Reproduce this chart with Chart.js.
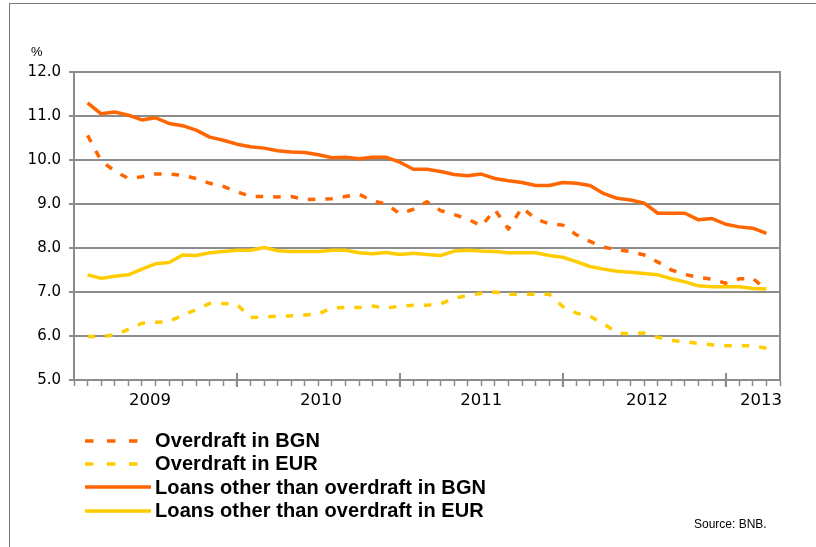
<!DOCTYPE html>
<html>
<head>
<meta charset="utf-8">
<script src="https://cdn.jsdelivr.net/npm/chart.js@4.4.1/dist/chart.umd.min.js"></script>
<style>
  html, body { margin: 0; padding: 0; background: #fff; }
  #wrap { position: relative; width: 816px; height: 547px; overflow: hidden; font-family: "Liberation Sans", Arial, sans-serif; }
  #frame { position: absolute; left: 9px; top: 3px; right: 0; bottom: 0; border-left: 1px solid #7a7a7a; border-top: 1px solid #7a7a7a; pointer-events: none; }
  #chart { position: absolute; left: 0; top: 0; }
  #pct { position: absolute; left: 31px; top: 44px; font-size: 13px; color: #000; }
  #legend { position: absolute; left: 85px; top: 429px; }
  .row { height: 23.3px; display: flex; align-items: center; font-weight: bold; font-size: 20px; letter-spacing: 0.1px; color: #000; white-space: nowrap; }
  .row svg { width: 66px; height: 8px; margin-right: 4px; flex: none; }
  #source { position: absolute; left: 694px; top: 517px; font-size: 12px; color: #000; }
</style>
</head>
<body>
<div id="wrap">
  <canvas id="chart" width="816" height="547"></canvas>
  <div id="frame"></div>
  <div id="pct">%</div>
  <div id="legend"></div>
  <div id="source">Source: BNB.</div>
</div>
<script>
// Monthly categories (Jan 2009 – Mar 2013)
const months = [
  'Jan 2009','Feb 2009','Mar 2009','Apr 2009','May 2009','Jun 2009','Jul 2009','Aug 2009','Sep 2009','Oct 2009','Nov 2009','Dec 2009',
  'Jan 2010','Feb 2010','Mar 2010','Apr 2010','May 2010','Jun 2010','Jul 2010','Aug 2010','Sep 2010','Oct 2010','Nov 2010','Dec 2010',
  'Jan 2011','Feb 2011','Mar 2011','Apr 2011','May 2011','Jun 2011','Jul 2011','Aug 2011','Sep 2011','Oct 2011','Nov 2011','Dec 2011',
  'Jan 2012','Feb 2012','Mar 2012','Apr 2012','May 2012','Jun 2012','Jul 2012','Aug 2012','Sep 2012','Oct 2012','Nov 2012','Dec 2012',
  'Jan 2013','Feb 2013','Mar 2013'
];

const overdraftBGN = [10.56, 9.98, 9.75, 9.58, 9.62, 9.68, 9.68, 9.65, 9.58, 9.47, 9.40, 9.28,
  9.17, 9.17, 9.16, 9.17, 9.10, 9.11, 9.12, 9.17, 9.22, 9.07, 9.00, 8.78,
  8.88, 9.05, 8.85, 8.76, 8.66, 8.50, 8.87, 8.43, 8.92, 8.66, 8.55, 8.52,
  8.30, 8.15, 8.02, 7.96, 7.92, 7.84, 7.68, 7.50, 7.40, 7.33, 7.29, 7.20,
  7.30, 7.31, 7.05];

const overdraftEUR = [5.99, 5.99, 6.02, 6.15, 6.29, 6.31, 6.33, 6.47, 6.60, 6.74, 6.74, 6.72,
  6.42, 6.43, 6.45, 6.46, 6.48, 6.50, 6.64, 6.65, 6.65, 6.68, 6.63, 6.68,
  6.70, 6.70, 6.73, 6.86, 6.92, 6.97, 7.00, 6.95, 6.95, 6.95, 6.95, 6.67,
  6.52, 6.45, 6.28, 6.07, 6.05, 6.07, 5.97, 5.90, 5.87, 5.83, 5.80, 5.78,
  5.78, 5.78, 5.72];

const loansBGN = [11.30, 11.05, 11.09, 11.02, 10.91, 10.96, 10.83, 10.78, 10.68, 10.52, 10.45, 10.36,
  10.30, 10.27, 10.21, 10.18, 10.17, 10.12, 10.05, 10.06, 10.03, 10.06, 10.06, 9.95,
  9.79, 9.79, 9.74, 9.67, 9.64, 9.68, 9.58, 9.53, 9.49, 9.42, 9.42, 9.49,
  9.47, 9.42, 9.24, 9.13, 9.09, 9.02, 8.79, 8.79, 8.79, 8.64, 8.67, 8.54,
  8.48, 8.45, 8.33];

const loansEUR = [7.39, 7.31, 7.36, 7.39, 7.52, 7.64, 7.67, 7.84, 7.83, 7.89, 7.92, 7.95,
  7.95, 8.01, 7.94, 7.92, 7.92, 7.92, 7.95, 7.95, 7.89, 7.87, 7.90, 7.85,
  7.88, 7.85, 7.83, 7.93, 7.95, 7.93, 7.92, 7.89, 7.89, 7.89, 7.83, 7.79,
  7.69, 7.58, 7.52, 7.47, 7.45, 7.42, 7.39, 7.30, 7.23, 7.14, 7.12, 7.12,
  7.12, 7.08, 7.07];

// Axis tick labels
const yearLabels = ['2009', '2010', '2011', '2012', '2013'];
const yearLabelPos = [5.6, 18.2, 30, 42.2, 50.6];   // positions on the month axis
const yearBoundaries = [12, 24, 36, 48];             // Dec of each year (major ticks)
const axisMin = 0, axisMax = months.length + 1;      // month axis: 0 = Dec 2008 .. 52
const monthTickPos = Array.from({ length: axisMax - axisMin + 1 }, (_, k) => axisMin + k);

const ORANGE = '#ff6600';
const YELLOW = '#ffcc00';
const GRID = '#8c8c8c';

const toPoints = arr => arr.map((v, i) => ({ x: i + 1, y: v }));

const majorTicks = {
  id: 'majorTicks',
  afterDraw(chart) {
    const xs = chart.scales.x, ctx = chart.ctx, yb = chart.chartArea.bottom;
    ctx.save();
    ctx.strokeStyle = GRID;
    ctx.lineWidth = 2;
    yearBoundaries.forEach(v => {
      const px = Math.round(xs.getPixelForValue(v));
      ctx.beginPath();
      ctx.moveTo(px, yb - 7);
      ctx.lineTo(px, yb + 7);
      ctx.stroke();
    });
    ctx.restore();
  }
};

const chart = new Chart(document.getElementById('chart'), {
  type: 'line',
  data: {
    datasets: [
      { label: 'Overdraft in BGN', data: toPoints(overdraftBGN), borderColor: ORANGE, borderDash: [7.5, 10], borderWidth: 3.5 },
      { label: 'Overdraft in EUR', data: toPoints(overdraftEUR), borderColor: YELLOW, borderDash: [7.5, 10], borderWidth: 3.5 },
      { label: 'Loans other than overdraft in BGN', data: toPoints(loansBGN), borderColor: ORANGE, borderWidth: 3.5 },
      { label: 'Loans other than overdraft in EUR', data: toPoints(loansEUR), borderColor: YELLOW, borderWidth: 3.5 }
    ]
  },
  options: {
    responsive: false,
    animation: false,
    devicePixelRatio: 1,
    layout: { padding: { top: 72, bottom: 120, left: 0, right: 0 } },
    elements: { point: { radius: 0 }, line: { tension: 0, borderJoinStyle: 'round', fill: false } },
    plugins: { legend: { display: false }, tooltip: { enabled: false } },
    scales: {
      x: {
        type: 'linear', position: 'bottom', weight: 0, min: axisMin, max: axisMax,
        afterBuildTicks: s => { s.ticks = monthTickPos.map(v => ({ value: v })); },
        afterFit: s => { s.height = 7; },
        grid: { drawOnChartArea: false, drawTicks: true, tickLength: 6, tickColor: GRID, tickWidth: 1.5 },
        border: { display: true, color: GRID, width: 2 },
        ticks: { display: false }
      },
      xYear: {
        type: 'linear', position: 'bottom', weight: 1, min: axisMin, max: axisMax,
        afterBuildTicks: s => { s.ticks = yearLabelPos.map(v => ({ value: v })); },
        afterFit: s => { s.height = 40; },
        grid: { display: false },
        border: { display: false },
        ticks: {
          autoSkip: false, maxRotation: 0, padding: -4, color: '#000',
          font: { family: 'DejaVu Sans', size: 16.5 },
          callback: (v, i) => yearLabels[i]
        }
      },
      y: {
        type: 'linear', position: 'left', min: 5, max: 12,
        afterFit: s => { s.width = 74; },
        ticks: { stepSize: 1, padding: 8, color: '#000', font: { family: 'DejaVu Sans', size: 15 }, callback: v => v.toFixed(1) },
        grid: { color: GRID, lineWidth: 2, tickLength: 5, drawTicks: true },
        border: { color: GRID, width: 2 }
      },
      y2: {
        type: 'linear', position: 'right', min: 5, max: 12,
        afterFit: s => { s.width = 36; },
        ticks: { display: false },
        grid: { display: false, drawTicks: false },
        border: { display: true, color: GRID, width: 2 }
      }
    }
  },
  plugins: [majorTicks]
});

// HTML legend built from the chart's datasets
const legendEl = document.getElementById('legend');
chart.data.datasets.forEach(ds => {
  const row = document.createElement('div');
  row.className = 'row';
  const dash = ds.borderDash ? 'stroke-dasharray="8.5 13.5"' : '';
  row.innerHTML = '<svg viewBox="0 0 66 8"><line x1="0" y1="4" x2="65" y2="4" stroke="' + ds.borderColor +
    '" stroke-width="3.6" ' + dash + ' stroke-linecap="' + (ds.borderDash ? 'butt' : 'round') + '"/></svg>';
  const span = document.createElement('span');
  span.textContent = ds.label;
  row.appendChild(span);
  legendEl.appendChild(row);
});
</script>
</body>
</html>
